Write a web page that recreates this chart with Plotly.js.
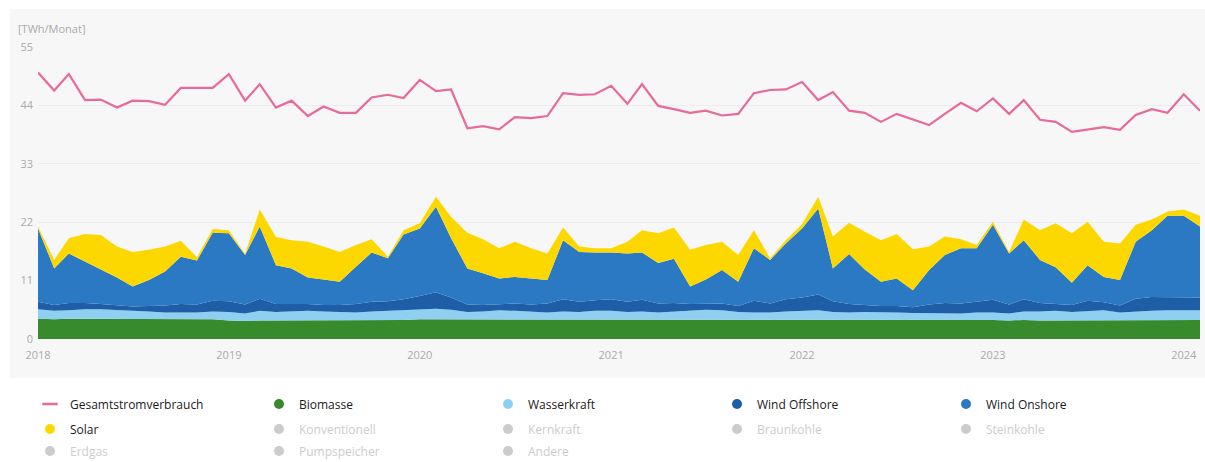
<!DOCTYPE html>
<html>
<head>
<meta charset="utf-8">
<script src="https://cdn.plot.ly/plotly-3.0.1.min.js"></script>
<style>
html,body{margin:0;padding:0;background:#fff;}
#chart{width:1205px;height:462px;}
</style>
</head>
<body>
<div id="chart"></div>
<script>
const months = [
 '2018-01','2018-02','2018-03','2018-04','2018-05','2018-06','2018-07','2018-08','2018-09','2018-10','2018-11','2018-12',
 '2019-01','2019-02','2019-03','2019-04','2019-05','2019-06','2019-07','2019-08','2019-09','2019-10','2019-11','2019-12',
 '2020-01','2020-02','2020-03','2020-04','2020-05','2020-06','2020-07','2020-08','2020-09','2020-10','2020-11','2020-12',
 '2021-01','2021-02','2021-03','2021-04','2021-05','2021-06','2021-07','2021-08','2021-09','2021-10','2021-11','2021-12',
 '2022-01','2022-02','2022-03','2022-04','2022-05','2022-06','2022-07','2022-08','2022-09','2022-10','2022-11','2022-12',
 '2023-01','2023-02','2023-03','2023-04','2023-05','2023-06','2023-07','2023-08','2023-09','2023-10','2023-11','2023-12',
 '2024-01','2024-02'
];

const gesamtstromverbrauch = [
 50.2,46.8,49.9,45.0,45.1,43.6,44.9,44.8,44.1,47.3,47.3,47.3,
 49.9,44.9,48.0,43.6,44.9,42.0,43.8,42.6,42.6,45.5,46.0,45.4,
 48.8,46.7,47.0,39.7,40.1,39.5,41.8,41.6,42.0,46.3,46.0,46.1,
 47.7,44.3,48.0,43.9,43.3,42.6,43.0,42.1,42.4,46.3,46.9,47.0,
 48.4,45.0,46.5,43.0,42.6,40.9,42.4,41.4,40.3,42.4,44.5,42.9,
 45.3,42.4,45.0,41.3,40.9,39.0,39.5,39.9,39.4,42.2,43.3,42.6,
 46.1,43.0
];

const biomasse = [
 3.8,3.7,3.8,3.8,3.7,3.7,3.7,3.7,3.7,3.7,3.7,3.7,
 3.5,3.4,3.5,3.5,3.5,3.5,3.5,3.5,3.5,3.6,3.6,3.6,
 3.7,3.7,3.7,3.6,3.6,3.6,3.6,3.6,3.6,3.7,3.7,3.7,
 3.7,3.6,3.7,3.6,3.6,3.6,3.6,3.6,3.6,3.7,3.7,3.7,
 3.7,3.6,3.7,3.6,3.6,3.6,3.6,3.6,3.6,3.6,3.6,3.7,
 3.6,3.5,3.6,3.5,3.5,3.5,3.5,3.5,3.5,3.6,3.6,3.6,
 3.6,3.6
];

const wasserkraft = [
 1.8,1.6,1.6,1.8,1.9,1.7,1.6,1.5,1.3,1.3,1.3,1.5,
 1.6,1.4,1.8,1.6,1.7,1.8,1.7,1.6,1.5,1.6,1.7,1.8,
 1.8,2.0,1.8,1.5,1.6,1.8,1.7,1.6,1.4,1.5,1.4,1.6,
 1.6,1.5,1.5,1.4,1.6,1.8,1.9,1.8,1.5,1.3,1.3,1.5,
 1.6,1.8,1.4,1.4,1.5,1.5,1.4,1.3,1.3,1.2,1.2,1.3,
 1.4,1.3,1.6,1.7,1.8,1.6,1.7,1.9,1.5,1.6,1.7,1.8,
 1.8,1.8
];

const windOffshore = [
 1.4,1.1,1.4,1.2,1.0,0.9,0.8,1.0,1.3,1.6,1.5,2.0,
 2.0,1.7,2.3,1.5,1.4,1.3,1.2,1.3,1.6,1.8,1.8,2.1,
 2.6,3.1,2.3,1.4,1.2,1.2,1.4,1.3,1.7,2.3,1.9,2.0,
 2.2,1.9,2.2,1.7,1.6,1.2,1.1,1.3,1.1,2.2,1.7,2.3,
 2.5,3.0,2.0,1.6,1.3,1.1,1.2,1.1,1.6,2.0,1.9,2.1,
 2.4,1.7,2.3,1.6,1.3,1.3,2.0,1.5,1.3,2.4,2.6,2.5,
 2.5,2.4
];

const windOnshore = [
 13.8,6.9,9.3,7.8,6.5,5.3,3.8,4.9,6.4,8.9,8.3,12.8,
 12.8,9.3,13.6,7.3,6.7,5.0,4.8,4.4,7.0,9.3,8.1,12.2,
 12.7,16.1,11.2,6.8,6.0,4.8,5.0,4.9,4.4,11.1,9.4,9.0,
 8.8,9.1,8.9,7.6,8.3,3.3,4.6,6.3,4.6,9.9,8.2,10.5,
 13.0,16.2,6.2,9.4,6.7,4.6,5.2,3.2,6.5,9.0,10.4,10.0,
 14.1,9.6,11.1,8.1,6.9,4.2,6.7,4.8,4.8,10.7,12.6,15.3,
 15.3,13.4
];

const solar = [
 0.4,1.6,2.9,5.2,6.5,5.8,6.5,5.7,4.7,3.0,0.6,0.7,
 0.6,0.2,3.2,5.3,5.3,6.7,6.2,5.6,4.1,2.5,0.3,0.8,
 1.0,1.9,4.0,6.7,6.4,5.7,6.6,5.7,5.0,2.4,1.0,0.8,
 0.8,2.2,4.2,5.6,5.9,6.9,6.5,5.3,5.0,3.4,0.3,0.6,
 0.8,2.2,6.0,5.9,7.1,7.8,8.4,7.7,4.4,3.5,1.7,0.6,
 0.6,0.3,3.9,5.6,8.3,9.3,8.2,6.6,6.9,3.2,2.0,0.8,
 1.2,2.0
];

const yTicks = [0, 11, 22, 33, 44, 55];
const xTicks = ['2018-01-01','2019-01-01','2020-01-01','2021-01-01','2022-01-01','2023-01-01','2024-01-01'];
const xTickText = ['2018','2019','2020','2021','2022','2023','2024'];

const stackSeries = [
  {name: 'Biomasse', values: biomasse, color: '#378b2c'},
  {name: 'Wasserkraft', values: wasserkraft, color: '#8fd0f2'},
  {name: 'Wind Offshore', values: windOffshore, color: '#1d5ea6'},
  {name: 'Wind Onshore', values: windOnshore, color: '#2b79c2'},
  {name: 'Solar', values: solar, color: '#fdd800'}
];
const hiddenRow2 = ['Konventionell', 'Kernkraft', 'Braunkohle', 'Steinkohle'];
const hiddenRow3 = ['Erdgas', 'Pumpspeicher', 'Andere'];
const pink = '#e8699c';

const traces = [];
stackSeries.forEach(s => {
  traces.push({
    type: 'scatter', x: months, y: s.values, name: s.name,
    stackgroup: 'one', mode: 'lines', line: {width: 0, color: s.color},
    fillcolor: s.color, showlegend: false
  });
});
traces.push({
  type: 'scatter', x: months, y: gesamtstromverbrauch, name: 'Gesamtstromverbrauch',
  mode: 'lines', line: {color: pink, width: 2.2}, showlegend: false
});

// legend entries (row 1)
traces.push({type:'scatter', x:[null], y:[null], mode:'markers', name:'Gesamtstromverbrauch',
  marker:{symbol:'line-ew', size:11, line:{color:pink, width:2.5}}, legend:'legend'});
['Biomasse','Wasserkraft','Wind Offshore','Wind Onshore'].forEach(n => {
  const s = stackSeries.find(d => d.name === n);
  traces.push({type:'scatter', x:[null], y:[null], mode:'markers', name:n,
    marker:{symbol:'circle', size:10, color:s.color}, legend:'legend'});
});
// row 2
traces.push({type:'scatter', x:[null], y:[null], mode:'markers', name:'Solar',
  marker:{symbol:'circle', size:10, color:'#fdd800'}, legend:'legend2'});
hiddenRow2.forEach(n => {
  traces.push({type:'scatter', x:[null], y:[null], mode:'markers',
    name:'<span style="color:#999">' + n + '</span>',
    marker:{symbol:'circle', size:10, color:'#9a9a9a'}, visible:'legendonly', legend:'legend2'});
});
// row 3
hiddenRow3.forEach(n => {
  traces.push({type:'scatter', x:[null], y:[null], mode:'markers',
    name:'<span style="color:#999">' + n + '</span>',
    marker:{symbol:'circle', size:10, color:'#9a9a9a'}, visible:'legendonly', legend:'legend3'});
});

const W = 1205, H = 462;
const mL = 38, mR = 5, mT = 47, mB = 123;
const pw = W - mL - mR, ph = H - mT - mB;
const px = v => (v - mL) / pw;
const py = v => (H - mB - v) / ph;

const legendFont = {family: 'Open Sans, sans-serif', size: 12, color: '#1a1a1a'};
const legendBase = {
  orientation: 'h', xanchor: 'left', yanchor: 'middle', x: px(30),
  entrywidth: 184, entrywidthmode: 'pixels', font: legendFont, traceorder: 'normal',
  bgcolor: 'rgba(0,0,0,0)', itemclick: false, itemdoubleclick: false, tracegroupgap: 0
};

const layout = {
  width: W, height: H,
  margin: {l: mL, r: mR, t: mT, b: mB, pad: 0, autoexpand: false},
  paper_bgcolor: '#ffffff',
  plot_bgcolor: '#f7f7f7',
  font: {family: 'Open Sans, sans-serif', color: '#aaa', size: 11},
  showlegend: true,
  hovermode: 'x unified',
  xaxis: {
    type: 'date', range: ['2018-01-01', '2024-02-01'],
    tickmode: 'array', tickvals: xTicks, ticktext: xTickText,
    showgrid: false, zeroline: false, showline: false, ticks: '',
    tickfont: {size: 11, color: '#aaa'}, ticklabelstandoff: 8, automargin: false
  },
  yaxis: {
    range: [0, 55], tickmode: 'array', tickvals: yTicks,
    showgrid: true, gridcolor: '#ececec', gridwidth: 1,
    zeroline: false, showline: false, ticks: '',
    tickfont: {size: 11, color: '#aaa'}, ticklabelstandoff: 4, automargin: false
  },
  shapes: [{
    type: 'rect', xref: 'paper', yref: 'paper', layer: 'below',
    x0: px(10), x1: px(1215), y0: py(378), y1: py(9),
    fillcolor: '#f7f7f7', line: {width: 0}
  }],
  annotations: [{
    xref: 'paper', yref: 'paper', x: px(16), y: py(28),
    xanchor: 'left', yanchor: 'middle', showarrow: false,
    text: '[TWh/Monat]', font: {size: 11, color: '#aaa'}
  }],
  legend: Object.assign({}, legendBase, {y: py(404)}),
  legend2: Object.assign({}, legendBase, {y: py(429)}),
  legend3: Object.assign({}, legendBase, {y: py(451)})
};

Plotly.newPlot('chart', traces, layout, {displayModeBar: false});
</script>
</body>
</html>
